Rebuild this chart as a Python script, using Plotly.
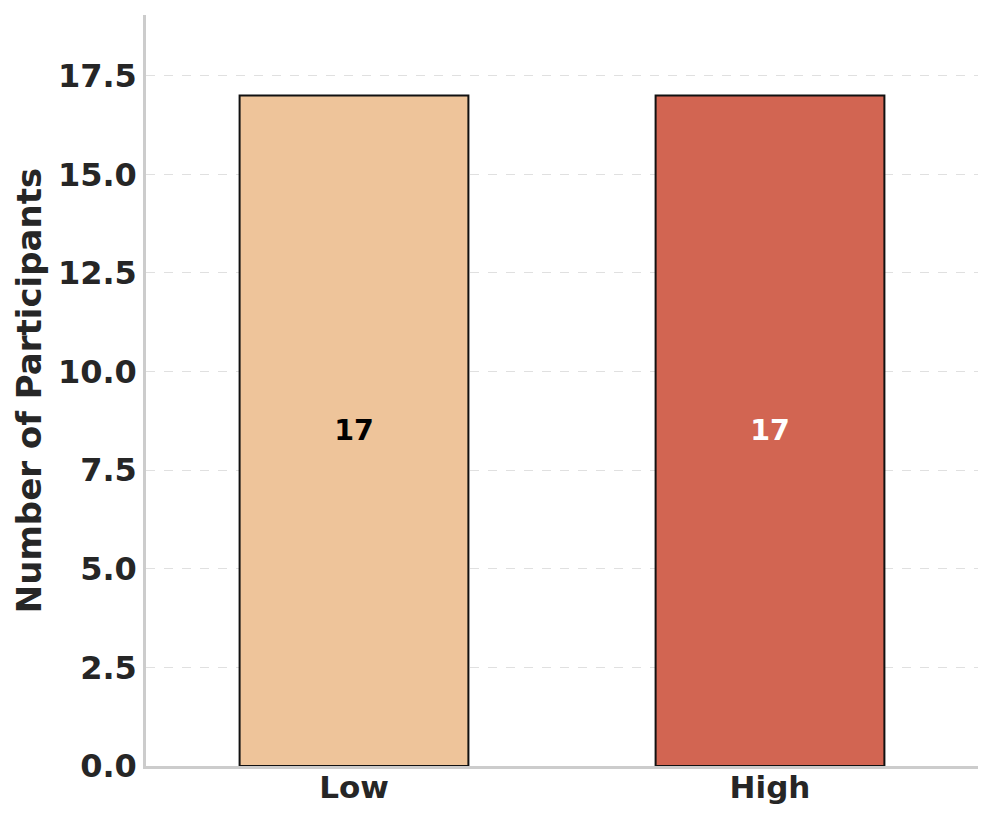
import plotly.graph_objects as go

categories = ["Low", "High"]
participants = [17, 17]
bar_colors = ["#EEC49A", "#D26552"]
label_colors = ["#000000", "#FFFFFF"]
y_ticks = [0, 2.5, 5, 7.5, 10, 12.5, 15, 17.5]
y_tick_labels = ["0.0", "2.5", "5.0", "7.5", "10.0", "12.5", "15.0", "17.5"]

FONT = "DejaVu Sans"
TXT = "#262626"

fig = go.Figure()
fig.add_trace(go.Bar(
    x=categories,
    y=participants,
    width=0.55,
    marker=dict(color=bar_colors, line=dict(color="#111111", width=2)),
    text=[f"<b>{v}</b>" for v in participants],
    textposition="inside",
    insidetextanchor="middle",
    textfont=dict(family=FONT, size=28.5, color=label_colors),
    showlegend=False,
))

fig.update_layout(
    width=987, height=814,
    margin=dict(l=138, r=17, t=7, b=56),
    paper_bgcolor="white",
    plot_bgcolor="white",
    font=dict(family=FONT, color=TXT),
)
fig.update_xaxes(
    range=[-0.5, 1.5],
    showline=True, linecolor="#cccccc", linewidth=2.5,
    showgrid=False, ticks="",
    tickfont=dict(family=FONT, size=31, color=TXT, weight="bold"),
    ticklabelstandoff=-8,
    zeroline=False,
)
fig.update_yaxes(
    range=[0, 19.04],
    tickvals=y_ticks, ticktext=y_tick_labels,
    showline=True, linecolor="#cccccc", linewidth=2.5,
    showgrid=True, gridcolor="#e0e0e0", griddash="dash", gridwidth=1.3,
    zeroline=False, ticks="",
    tickfont=dict(family=FONT, size=32, color=TXT, weight="bold"),
    title=dict(text="<b>Number of Participants</b>", font=dict(family=FONT, size=34, color=TXT), standoff=6),
)

fig.write_html("out.html")
